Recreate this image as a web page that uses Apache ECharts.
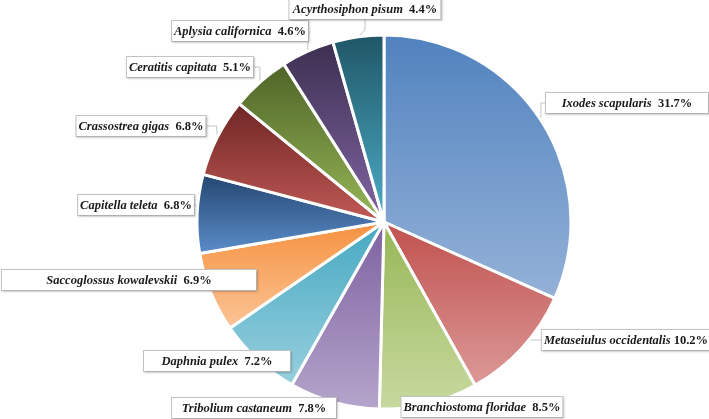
<!DOCTYPE html>
<html>
<head>
<meta charset="utf-8">
<title>Species pie</title>
<script src="https://cdn.jsdelivr.net/npm/echarts@6/dist/echarts.min.js"></script>
<style>
  html, body { margin: 0; padding: 0; background: #fff; }
  #main { width: 709px; height: 419px; }
</style>
</head>
<body>
<div id="main"></div>
<script>
// species names, clockwise from 12 o'clock
var species = [
  'Ixodes scapularis', 'Metaseiulus occidentalis', 'Branchiostoma floridae',
  'Tribolium castaneum', 'Daphnia pulex', 'Saccoglossus kowalevskii',
  'Capitella teleta', 'Crassostrea gigas', 'Ceratitis capitata',
  'Aplysia californica', 'Acyrthosiphon pisum'
];
// share in percent
var share = [31.7, 10.2, 8.5, 7.8, 7.2, 6.9, 6.8, 6.8, 5.1, 4.6, 4.4];

// slice gradients [top, bottom]
var grads = [
  ['#5082be', '#95b2d8'],
  ['#c0504d', '#dc9a98'],
  ['#96b656', '#c8daa0'],
  ['#7d61a0', '#b5a5cb'],
  ['#46a8c2', '#98d0de'],
  ['#f6913f', '#fbc597'],
  ['#24456f', '#5b8ecb'],
  ['#6e2624', '#c25a57'],
  ['#4e6327', '#98b858'],
  ['#3c2f50', '#8266a4'],
  ['#1f5666', '#4eaec8']
];

// label box centres and box widths (layout only)
var labelAt = [
  [627, 103], [626, 340], [482, 407], [254, 408], [217, 361], [129, 280],
  [136, 205], [141, 126], [190, 67], [240, 31], [365, 9]
];
var boxW = [162, 163, 155, 164, 146, 254, 112, 122, 124, 121, 151];

var FS = 12.5;
var FF = 'Liberation Serif';

function sepOf(i) { return i === 1 ? ' ' : '  '; }

// measure label text so side spacers can pad the box to the wanted width
var mctx = document.createElement('canvas').getContext('2d');
function textW(i) {
  mctx.font = 'italic bold ' + FS + 'px "' + FF + '"';
  var w = mctx.measureText(species[i]).width;
  mctx.font = FS + 'px "' + FF + '"';
  w += mctx.measureText(sepOf(i)).width;
  mctx.font = 'bold ' + FS + 'px "' + FF + '"';
  w += mctx.measureText(share[i].toFixed(1) + '%').width;
  return w;
}

var rich = {
  n: { fontFamily: FF, fontStyle: 'italic', fontWeight: 'bold', fontSize: FS, color: '#1a1a1a' },
  s: { fontFamily: FF, fontSize: FS },
  p: { fontFamily: FF, fontWeight: 'bold', fontSize: FS, color: '#1a1a1a' }
};
species.forEach(function (n, i) {
  rich['g' + i] = { fontFamily: FF, fontSize: FS, width: Math.max(1, (boxW[i] - 2 - textW(i)) / 2) };
});

var chart = echarts.init(document.getElementById('main'));

var data = species.map(function (n, i) {
  return {
    name: n,
    value: share[i],
    itemStyle: {
      color: new echarts.graphic.LinearGradient(0, 0, 0, 1, [
        { offset: 0, color: grads[i][0] },
        { offset: 1, color: grads[i][1] }
      ])
    }
  };
});

chart.setOption({
  backgroundColor: '#fff',
  animation: false,
  series: [{
    type: 'pie',
    // wide view box so outside labels are never squeezed by the canvas edge
    left: -400,
    top: 0,
    width: 1509,
    height: 419,
    center: [784, 222],
    radius: [0, 187],
    startAngle: 90,
    clockwise: true,
    data: data,
    itemStyle: { borderColor: '#fff', borderWidth: 3 },
    label: {
      show: true,
      position: 'outside',
      overflow: 'none',
      formatter: function (p) {
        var g = '{g' + p.dataIndex + '| }';
        return g + '{n|' + p.name + '}{s|' + sepOf(p.dataIndex) + '}{p|' + p.value.toFixed(1) + '%}' + g;
      },
      padding: [4, 1, 3, 1],
      backgroundColor: '#fff',
      borderColor: '#c4c4c4',
      borderWidth: 1,
      shadowColor: 'rgba(0,0,0,0.15)',
      shadowBlur: 2,
      shadowOffsetX: 1,
      shadowOffsetY: 1,
      rich: rich
    },
    labelLine: {
      show: true,
      length: 15,
      length2: 10,
      lineStyle: { color: '#c4c4c4', width: 1 }
    },
    labelLayout: function (params) {
      var pos = labelAt[params.dataIndex];
      return {
        x: pos[0],
        y: pos[1],
        align: 'center',
        verticalAlign: 'middle'
      };
    }
  }]
});
</script>
</body>
</html>
